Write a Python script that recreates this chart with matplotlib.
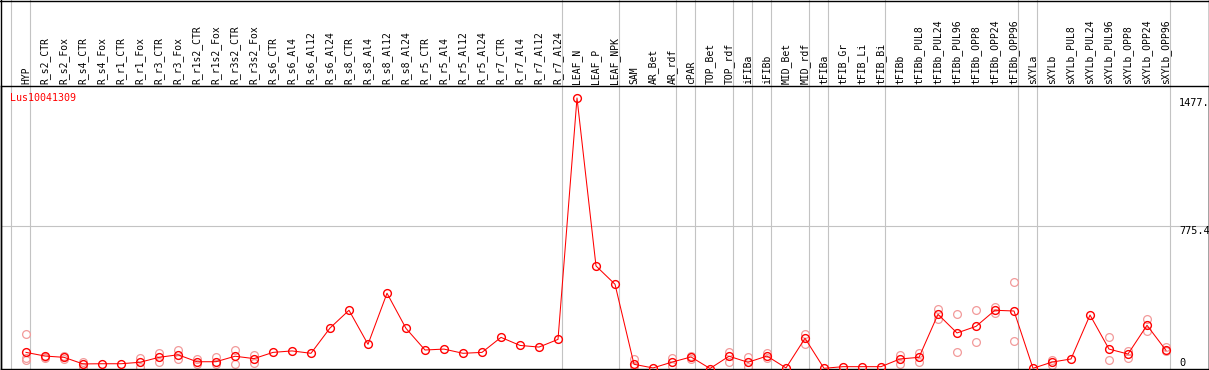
import numpy as np
import matplotlib
matplotlib.use("Agg")
import matplotlib.pyplot as plt
import matplotlib.transforms as mtrans
from matplotlib.lines import Line2D

# ---------------- data ----------------
gene = "Lus10041309"

samples = [
    "HYP", "R_s2_CTR", "R_s2_Fox", "R_s4_CTR", "R_s4_Fox", "R_r1_CTR", "R_r1_Fox",
    "R_r3_CTR", "R_r3_Fox", "R_r1s2_CTR", "R_r1s2_Fox", "R_r3s2_CTR", "R_r3s2_Fox",
    "R_s6_CTR", "R_s6_Al4", "R_s6_Al12", "R_s6_Al24", "R_s8_CTR", "R_s8_Al4",
    "R_s8_Al12", "R_s8_Al24", "R_r5_CTR", "R_r5_Al4", "R_r5_Al12", "R_r5_Al24",
    "R_r7_CTR", "R_r7_Al4", "R_r7_Al12", "R_r7_Al24", "LEAF_N", "LEAF_P", "LEAF_NPK",
    "SAM", "AR_Bet", "AR_rdf", "cPAR", "TOP_Bet", "TOP_rdf", "iFIBa", "iFIBb",
    "MID_Bet", "MID_rdf", "tFIBa", "tFIB_Gr", "tFIB_Li", "tFIB_Bi", "tFIBb",
    "tFIBb_PUL8", "tFIBb_PUL24", "tFIBb_PUL96", "tFIBb_OPP8", "tFIBb_OPP24",
    "tFIBb_OPP96", "sXYLa", "sXYLb", "sXYLb_PUL8", "sXYLb_PUL24", "sXYLb_PUL96",
    "sXYLb_OPP8", "sXYLb_OPP24", "sXYLb_OPP96",
]

mean_values = [
    88, 68, 61, 25, 26, 26, 34, 61, 75, 37, 37, 67, 54,
    88, 96, 83, 221, 318, 132, 411, 219, 101, 106, 83, 88,
    170, 126, 117, 159, 1477, 560, 460,
    23, 3, 35, 63, 0, 67, 34, 68,
    3, 165, 1, 10, 10, 10, 52,
    61, 296, 194, 230, 318, 314,
    1, 35, 52, 292, 106, 79, 236, 99,
]

nan = np.nan
rep_a = [
    187, 64, 68, 35, nan, nan, 57, 83, 101, 50, 61, 101, 72,
    nan, nan, nan, nan, nan, nan, nan, nan, nan, nan, nan, nan,
    nan, nan, nan, nan, nan, nan, nan,
    50, nan, 56, 68, nan, 92, 64, 83,
    nan, 188, nan, nan, nan, nan, 75,
    83, 325, 298, 319, 337, 472,
    nan, 46, nan, nan, 170, 97, 270, 116,
]
rep_b = [
    56, 57, 54, 8, nan, nan, 8, 37, 52, 25, 25, 25, 28,
    nan, nan, nan, nan, nan, nan, nan, nan, nan, nan, nan, nan,
    nan, nan, nan, nan, nan, nan, nan,
    14, nan, 14, 50, nan, 37, 10, 60,
    nan, 134, nan, nan, nan, nan, 25,
    37, 270, 88, 145, 305, 150,
    nan, 21, nan, nan, 45, 56, 206, 96,
]
rep_c = [46] + [nan] * 60

# last sample index of each group (vertical separators)
group_ends = [0, 28, 31, 34, 35, 37, 38, 39, 41, 42, 45, 52, 53, 60]
right_labels = [1477, 775.4, 0]
right_texts = ["1477.", "775.4", "0"]

# ---------------- layout (pixels) ----------------
W, H = 1209, 370
DPI = 100
x0_px, step_px = 26.0, 19.0         # centre of first column, column pitch
ax_left_px, ax_right_px = 0.5, 1208.5
ax_top_px, ax_bot_px = 86.0, 368.5
peak_px = 98.0

fig = plt.figure(figsize=(W / DPI, H / DPI), dpi=DPI)
fig.patch.set_facecolor("white")
ax = fig.add_axes([ax_left_px / W, (H - ax_bot_px) / H,
                   (ax_right_px - ax_left_px) / W, (ax_bot_px - ax_top_px) / H])

n = len(samples)
x = np.arange(n)
ax.set_xlim((ax_left_px - x0_px) / step_px, (ax_right_px - x0_px) / step_px)
ymax_data = max(mean_values)
ax.set_ylim(0, ymax_data * (ax_bot_px - ax_top_px) / (ax_bot_px - peak_px))


def ay(px):  # pixel row -> axes fraction
    return (ax_bot_px - px) / (ax_bot_px - ax_top_px)


for s in ax.spines.values():
    s.set_color("black")
    s.set_linewidth(1.0)
ax.set_xticks([])
ax.set_yticks([])

mono = "DejaVu Sans Mono"
grey = "#c3c3c3"
red = "#ff0000"
pink = "#f29a9a"

# gridline at middle value
ax.axhline(775.4, color=grey, lw=0.8, zorder=1)

# vertical separators spanning whole figure height
sep_off = 4.0 / step_px
seps = [group_ends[0] - 15.0 / step_px] + [g + sep_off for g in group_ends]
for sx in seps:
    ax.axvline(sx, ymin=ay(H), ymax=ay(0), color=grey, lw=0.8,
               clip_on=False, zorder=1)

# outer frame lines
fig.add_artist(Line2D([0, 1], [1 - 0.5 / H, 1 - 0.5 / H], color="black",
                      lw=1.0, transform=fig.transFigure))
fig.add_artist(Line2D([ax_left_px / W] * 2, [0, 1], color="black",
                      lw=1.0, transform=fig.transFigure))
fig.add_artist(Line2D([ax_right_px / W] * 2, [0, 1], color="black",
                      lw=1.0, transform=fig.transFigure))

# replicate points
for reps in (rep_a, rep_b, rep_c):
    ax.plot(x, reps, ls="none", marker="o", ms=5.6, mfc="none", mec=pink,
            mew=0.9, clip_on=False, zorder=2)

# mean line
ax.plot(x, mean_values, color=red, lw=0.75, marker="o", ms=5.6, mfc="none",
        mec=red, mew=1.0, clip_on=False, zorder=3)

# header labels
trans = mtrans.blended_transform_factory(ax.transData, ax.transAxes)
for i, lab in enumerate(samples):
    ax.text(i, ay(84.0), lab, rotation=90, ha="center", va="bottom",
            fontsize=7.0, family=mono, color="black", transform=trans,
            clip_on=False)

# gene name
ax.text((10 - ax_left_px) / (ax_right_px - ax_left_px), ay(98.0), gene,
        transform=ax.transAxes, ha="left", va="center", fontsize=7.2,
        family=mono, color=red)

# right-hand value labels
tr2 = mtrans.blended_transform_factory(ax.transAxes, ax.transData)
xr = (1179 - ax_left_px) / (ax_right_px - ax_left_px)
for v, t in zip(right_labels, right_texts):
    va = "bottom" if v == 0 else "top"
    ax.text(xr, v, t, transform=tr2, ha="left", va=va, fontsize=7.4,
            family=mono, color="black", clip_on=False)

fig.savefig("out.png", dpi=DPI, facecolor="white")
